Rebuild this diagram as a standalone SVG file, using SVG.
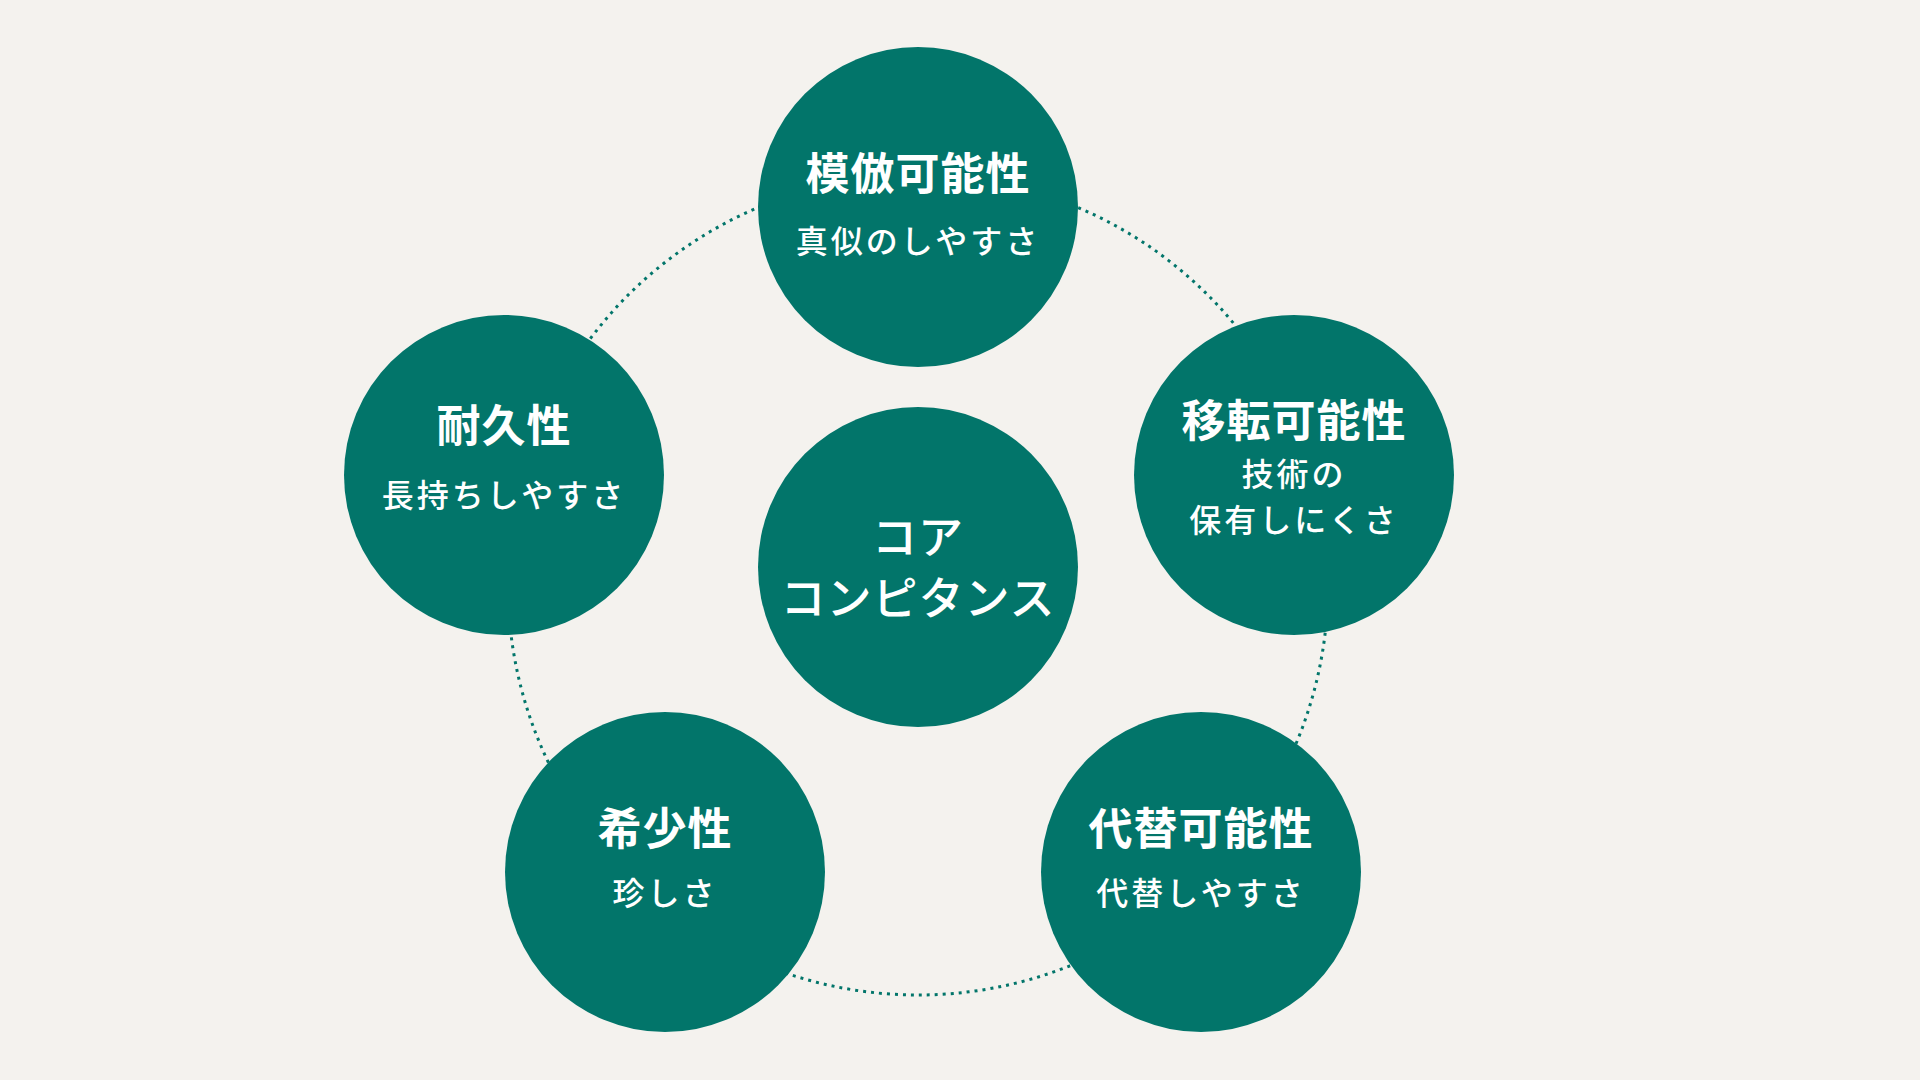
<svg xmlns="http://www.w3.org/2000/svg" width="1920" height="1080" viewBox="0 0 1920 1080">
<style>
.n{fill:#02756A}
text{fill:#fff;font-family:"Noto Sans CJK JP",sans-serif;text-anchor:middle;dominant-baseline:central}
.t{font-size:44px;font-weight:bold;letter-spacing:1px}
.s{font-size:32px;font-weight:500;letter-spacing:3px}
.c{font-size:45px;font-weight:500;letter-spacing:1px}
</style>
<rect width="1920" height="1080" fill="#F4F2EE"/>
<g id="connectors"><circle cx="918" cy="585" r="410" fill="none" stroke="#02756A" stroke-width="3" stroke-dasharray="3 5"/></g>
<g id="top"><circle class="n" cx="918" cy="207" r="160"/><text class="t" x="918" y="171">模倣可能性</text><text class="s" x="918" y="239">真似のしやすさ</text></g>
<g id="left"><circle class="n" cx="504" cy="475" r="160"/><text class="t" x="504" y="423">耐久性</text><text class="s" x="504" y="493">長持ちしやすさ</text></g>
<g id="right"><circle class="n" cx="1294" cy="475" r="160"/><text class="t" x="1294" y="418">移転可能性</text><text class="s" x="1294" y="472">技術の</text><text class="s" x="1294" y="518">保有しにくさ</text></g>
<g id="center"><circle class="n" cx="918" cy="567" r="160"/><text class="c" x="918" y="534">コア</text><text class="c" x="918" y="595">コンピタンス</text></g>
<g id="bl"><circle class="n" cx="665" cy="872" r="160"/><text class="t" x="665" y="826">希少性</text><text class="s" x="665" y="891">珍しさ</text></g>
<g id="br"><circle class="n" cx="1201" cy="872" r="160"/><text class="t" x="1201" y="826">代替可能性</text><text class="s" x="1201" y="891">代替しやすさ</text></g>
</svg>
